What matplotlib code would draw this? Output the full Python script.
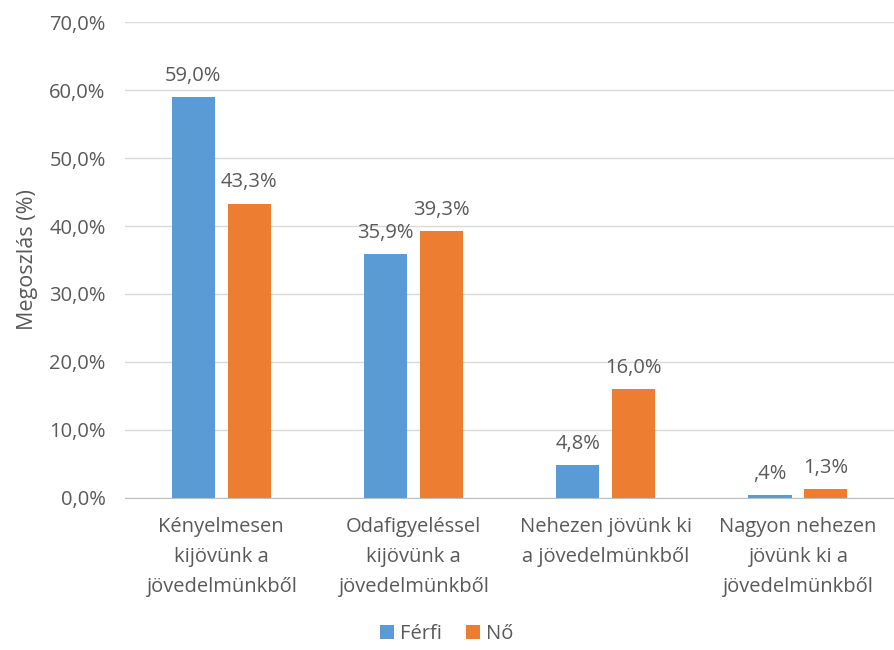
import matplotlib
matplotlib.use("Agg")
import matplotlib.pyplot as plt
import numpy as np
from matplotlib.ticker import FuncFormatter

categories = [
    "Kényelmesen\nkijövünk a\njövedelmünkből",
    "Odafigyeléssel\nkijövünk a\njövedelmünkből",
    "Nehezen jövünk ki\na jövedelmünkből",
    "Nagyon nehezen\njövünk ki a\njövedelmünkből",
]
ferfi = [59.0, 35.9, 4.8, 0.4]
no = [43.3, 39.3, 16.0, 1.3]
ferfi_labels = ["59,0%", "35,9%", "4,8%", ",4%"]
no_labels = ["43,3%", "39,3%", "16,0%", "1,3%"]

BLUE = "#5B9BD5"
ORANGE = "#ED7D31"
TEXT = "#595959"

plt.rcParams["font.family"] = ["Open Sans", "DejaVu Sans"]

fig = plt.figure(figsize=(8.94, 6.5), dpi=100)
ax = fig.add_axes([0.14, 0.234, 0.86, 0.732])

x = np.arange(len(categories))
w = 0.225
off = 0.145
b1 = ax.bar(x - off, ferfi, w, color=BLUE, label="Férfi")
b2 = ax.bar(x + off, no, w, color=ORANGE, label="Nő")

for bars, labels in ((b1, ferfi_labels), (b2, no_labels)):
    for rect, lab in zip(bars, labels):
        ax.annotate(lab, (rect.get_x() + rect.get_width() / 2, rect.get_height()),
                    xytext=(0, 8), textcoords="offset points",
                    ha="center", va="bottom", fontsize=14.5, color=TEXT)

ax.set_xlim(-0.5, 3.5)
ax.set_ylim(0, 70)
ax.set_yticks(np.arange(0, 71, 10))
ax.yaxis.set_major_formatter(FuncFormatter(lambda v, p: f"{v:.1f}%".replace(".", ",")))
ax.set_xticks(x)
ax.set_xticklabels(categories, fontsize=14.5, color=TEXT, linespacing=1.65)
ax.tick_params(axis="y", labelsize=14.5, labelcolor=TEXT, length=0, pad=14)
ax.tick_params(axis="x", length=0, pad=14)
ax.grid(axis="y", color="#D9D9D9", linewidth=1)
ax.set_axisbelow(True)
for s in ("top", "right", "left"):
    ax.spines[s].set_visible(False)
ax.spines["bottom"].set_color("#BFBFBF")

ax.set_ylabel("Megoszlás (%)", fontsize=15.5, color=TEXT, labelpad=8)

fig.legend(handles=[b1, b2], labels=["Férfi", "Nő"], loc="center",
           bbox_to_anchor=(0.5, 0.025), ncol=2, frameon=False,
           fontsize=14.5, labelcolor=TEXT, handlelength=0.7, handleheight=0.7,
           handletextpad=0.3, columnspacing=1.2)

fig.savefig("out.png", dpi=100)
